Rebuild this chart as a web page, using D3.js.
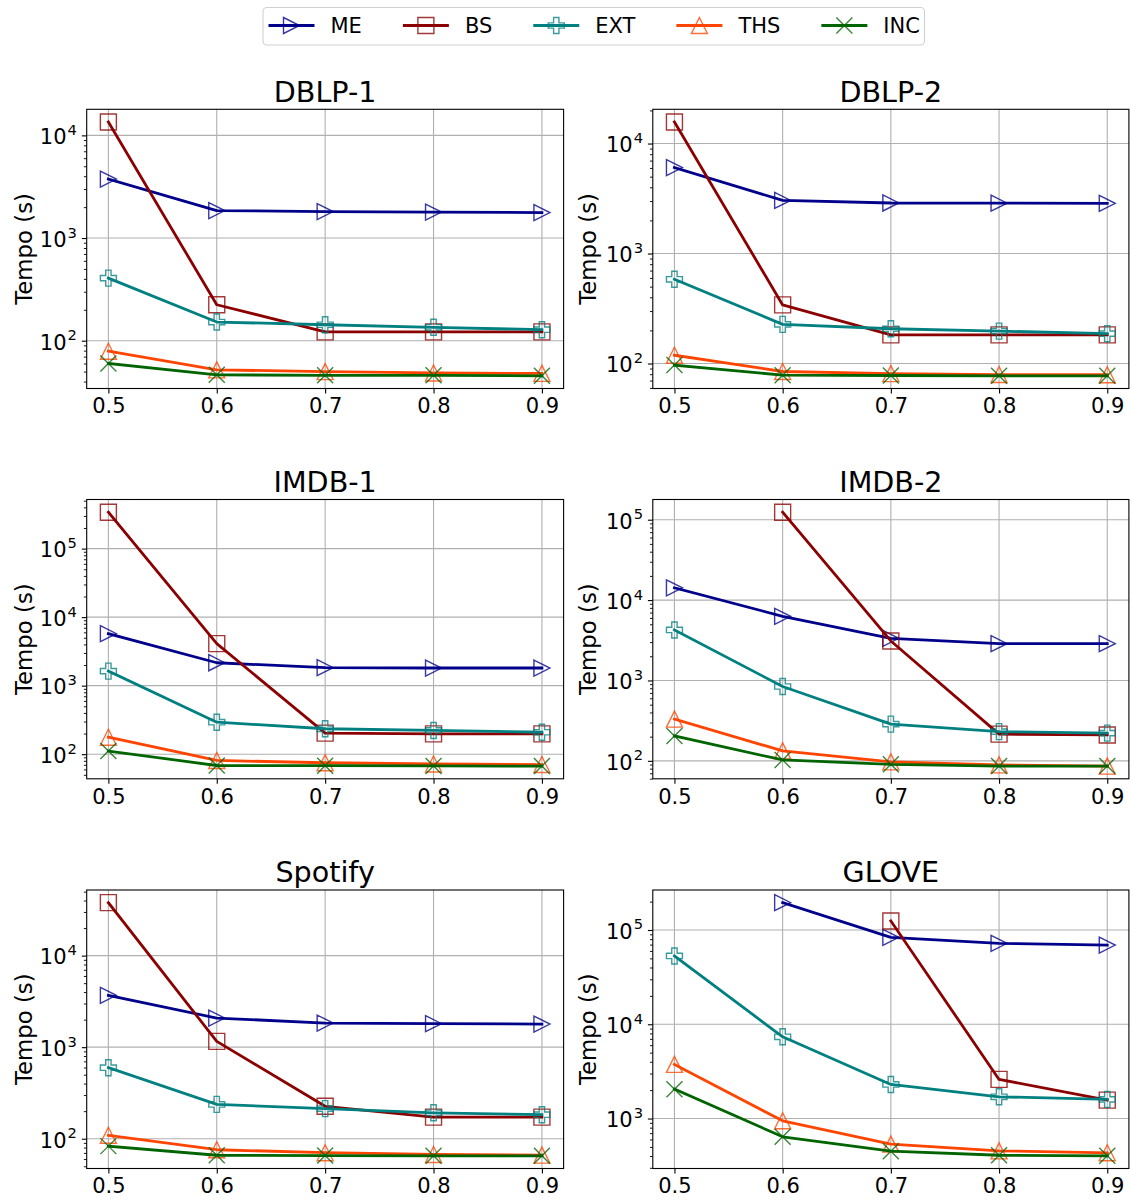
<!DOCTYPE html>
<html><head><meta charset="utf-8">
<script src="https://cdn.jsdelivr.net/npm/d3@7"></script>
<style>
body{margin:0;background:#fff}
text{font-family:"DejaVu Sans",sans-serif;fill:#000}
</style>
</head><body>
<svg id="chart" width="1131" height="1200"></svg>
<script>
// ---------- data ----------
const thresholds = [0.5, 0.6, 0.7, 0.8, 0.9];
const xTickLabels = ["0.5", "0.6", "0.7", "0.8", "0.9"];
const seriesNames = ["ME", "BS", "EXT", "THS", "INC"];
const seriesColors = ["#00008b", "#8b0000", "#008080", "#ff4500", "#006400"];
const seriesMarkers = ["triRight", "square", "plus", "triUp", "x"];
const panelTitles = ["DBLP-1", "DBLP-2", "IMDB-1", "IMDB-2", "Spotify", "GLOVE"];
const yAxisLabel = "Tempo (s)";

// rows: ME, BS, EXT, THS, INC
const dblp1 = [
  [3750, 1850, 1810, 1790, 1770],
  [13500, 224, 122, 122, 122],
  [407, 152, 143, 135, 128],
  [79, 52, 50, 48.5, 48],
  [60, 46.5, 46, 46, 45.5]
];
const dblp2 = [
  [6040, 3040, 2880, 2870, 2860],
  [15700, 341, 182, 182, 182],
  [583, 227, 207, 197, 187],
  [119, 84.6, 81, 79.4, 79],
  [96.7, 78.3, 77.8, 77.3, 77.3]
];
const imdb1 = [
  [5740, 2160, 1830, 1810, 1810],
  [340000, 4100, 203, 198, 198],
  [1630, 293, 235, 222, 209],
  [177, 81, 75, 72, 70.6],
  [111, 68.4, 68, 67.5, 67]
];
const imdb2 = [
  [14200, 6280, 3340, 2870, 2870],
  [null, 124000, 3100, 215, 210],
  [4250, 841, 286, 231, 221],
  [330, 133, 97, 89, 86],
  [204, 102.6, 90.6, 86, 86]
];
const spotify = [
  [3680, 2080, 1835, 1808, 1790],
  [37900, 1157, 226, 172, 172],
  [597, 237, 213, 192, 183],
  [109, 75.8, 70.3, 67.3, 66.2],
  [83, 66, 65.5, 65, 65]
];
const glove = [
  [null, 195000, 83600, 72200, 69300],
  [null, null, 124700, 2600, 1567],
  [53000, 7360, 2300, 1700, 1597],
  [3750, 946, 535, 454, 433],
  [2050, 640, 451, 408, 402]
];
const panelData = [dblp1, dblp2, imdb1, imdb2, spotify, glove];

// ---------- layout ----------
const colX = [[86.7, 563.6], [652.8, 1128.9]];
const rowY = [[109.3, 388.5], [499.5, 778.8], [890, 1168.5]];
const tickFont = 21, titleFont = 28.6, labelFont = 22.8, legendFont = 21;
const majorLen = 4.9, minorLen = 2.8, tickPad = 4.9;
const markerSize = 16, lineW = 2.8, markerW = 1.4;

const svg = d3.select("#chart");
svg.append("rect").attr("width", 1131).attr("height", 1200).attr("fill", "#fff");

function markerPath(type, s) {
  const h = s / 2;
  switch (type) {
    case "triRight": return `M${-h},${-h}L${h},0L${-h},${h}Z`;
    case "triUp": return `M0,${-h}L${h},${h}L${-h},${h}Z`;
    case "square": return `M${-h},${-h}H${h}V${h}H${-h}Z`;
    case "plus": {
      const a = s / 6;
      return `M${-a},${-h}H${a}V${-a}H${h}V${a}H${a}V${h}H${-a}V${a}H${-h}V${-a}H${-a}Z`;
    }
    case "x": return `M${-h},${-h}L${h},${h}M${-h},${h}L${h},${-h}`;
  }
}

panelData.forEach((data, pi) => {
  const col = pi % 2, row = Math.floor(pi / 2);
  const [x0, x1] = colX[col];
  const [y0, y1] = rowY[row];
  const all = data.flat().filter(v => v != null);
  const lmin = Math.log10(d3.min(all)), lmax = Math.log10(d3.max(all));
  const m = (lmax - lmin) * 0.05;
  const x = d3.scaleLinear().domain([0.48, 0.92]).range([x0, x1]);
  const y = d3.scaleLog().domain([Math.pow(10, lmin - m), Math.pow(10, lmax + m)]).range([y1, y0]);

  const g = svg.append("g");
  const majors = [], minors = [];
  for (let e = Math.floor(lmin - m) - 1; e <= Math.ceil(lmax + m) + 1; e++) {
    const v = Math.pow(10, e);
    if (v >= y.domain()[0] && v <= y.domain()[1]) majors.push(v);
    for (let k = 2; k <= 9; k++) {
      const mv = k * v;
      if (mv >= y.domain()[0] && mv <= y.domain()[1]) minors.push(mv);
    }
  }

  // grid
  g.append("g").selectAll("line").data(thresholds).join("line")
    .attr("x1", d => x(d)).attr("x2", d => x(d)).attr("y1", y0).attr("y2", y1)
    .attr("stroke", "#b0b0b0").attr("stroke-width", 1.1);
  g.append("g").selectAll("line").data(majors).join("line")
    .attr("x1", x0).attr("x2", x1).attr("y1", d => y(d)).attr("y2", d => y(d))
    .attr("stroke", "#b0b0b0").attr("stroke-width", 1.1);

  // series
  data.forEach((vals, si) => {
    const pts = thresholds.map((t, i) => ({ t, v: vals[i] })).filter(p => p.v != null);
    const line = d3.line().x(p => x(p.t)).y(p => y(p.v));
    g.append("path").attr("d", line(pts)).attr("fill", "none")
      .attr("stroke", seriesColors[si]).attr("stroke-width", lineW)
      .attr("stroke-linejoin", "round").attr("stroke-linecap", "square");
    g.append("g").selectAll("path").data(pts).join("path")
      .attr("transform", p => `translate(${x(p.t)},${y(p.v)})`)
      .attr("d", markerPath(seriesMarkers[si], markerSize))
      .attr("fill", "none").attr("stroke", seriesColors[si])
      .attr("stroke-opacity", 0.78).attr("stroke-width", markerW);
  });

  // frame
  g.append("rect").attr("x", x0).attr("y", y0).attr("width", x1 - x0).attr("height", y1 - y0)
    .attr("fill", "none").attr("stroke", "#000").attr("stroke-width", 1.1);

  // x axis
  const xa = g.append("g").attr("transform", `translate(0,${y1})`)
    .call(d3.axisBottom(x).tickValues(thresholds).tickFormat((d, i) => xTickLabels[i])
      .tickSize(majorLen).tickPadding(tickPad).tickSizeOuter(0));
  xa.select(".domain").remove();
  xa.selectAll("line").attr("stroke", "#000").attr("stroke-width", 1.1);
  xa.selectAll("text").attr("font-size", tickFont).attr("font-family", "DejaVu Sans");

  // y axis minor
  const ym = g.append("g").attr("transform", `translate(${x0},0)`)
    .call(d3.axisLeft(y).tickValues(minors).tickFormat("").tickSize(minorLen).tickSizeOuter(0));
  ym.select(".domain").remove();
  ym.selectAll("line").attr("stroke", "#000").attr("stroke-width", 0.9);

  // y axis major
  const ya = g.append("g").attr("transform", `translate(${x0},0)`)
    .call(d3.axisLeft(y).tickValues(majors).tickFormat("").tickSize(majorLen).tickPadding(tickPad).tickSizeOuter(0));
  ya.select(".domain").remove();
  ya.selectAll("line").attr("stroke", "#000").attr("stroke-width", 1.1);
  ya.selectAll(".tick text").each(function (d) {
    const t = d3.select(this).attr("font-size", tickFont).attr("font-family", "DejaVu Sans")
      .attr("dy", null).attr("y", 8.3);
    t.text(null);
    t.append("tspan").text("10");
    t.append("tspan").attr("font-size", tickFont * 0.7).attr("dy", -9.3).attr("dx", 1)
      .text(String(Math.round(Math.log10(d))));
  });

  // title
  svg.append("text").attr("x", (x0 + x1) / 2).attr("y", y0 - 7.8)
    .attr("text-anchor", "middle").attr("font-size", titleFont).text(panelTitles[pi]);

  // y label
  const lx = col === 0 ? 32 : 596;
  svg.append("text").attr("transform", `translate(${lx},${(y0 + y1) / 2}) rotate(-90)`)
    .attr("text-anchor", "middle").attr("font-size", labelFont).text(yAxisLabel);
});

// ---------- legend ----------
const leg = svg.append("g");
leg.append("rect").attr("x", 263).attr("y", 7.5).attr("width", 661.5).attr("height", 37.5)
  .attr("rx", 4).attr("fill", "#fff").attr("stroke", "#d0d0d0").attr("stroke-width", 1.1);
let lxPos = 268.5;
const legY = 25.5;
seriesNames.forEach((name, si) => {
  leg.append("line").attr("x1", lxPos).attr("x2", lxPos + 46).attr("y1", legY).attr("y2", legY)
    .attr("stroke", seriesColors[si]).attr("stroke-width", lineW);
  leg.append("path").attr("transform", `translate(${lxPos + 23},${legY})`)
    .attr("d", markerPath(seriesMarkers[si], markerSize)).attr("fill", "none")
    .attr("stroke", seriesColors[si]).attr("stroke-opacity", 0.78).attr("stroke-width", markerW);
  const t = leg.append("text").attr("x", lxPos + 62).attr("y", legY).attr("dy", "0.36em")
    .attr("font-size", legendFont).text(name);
  lxPos = lxPos + 62 + t.node().getComputedTextLength() + 41;
});
</script>
</body></html>
